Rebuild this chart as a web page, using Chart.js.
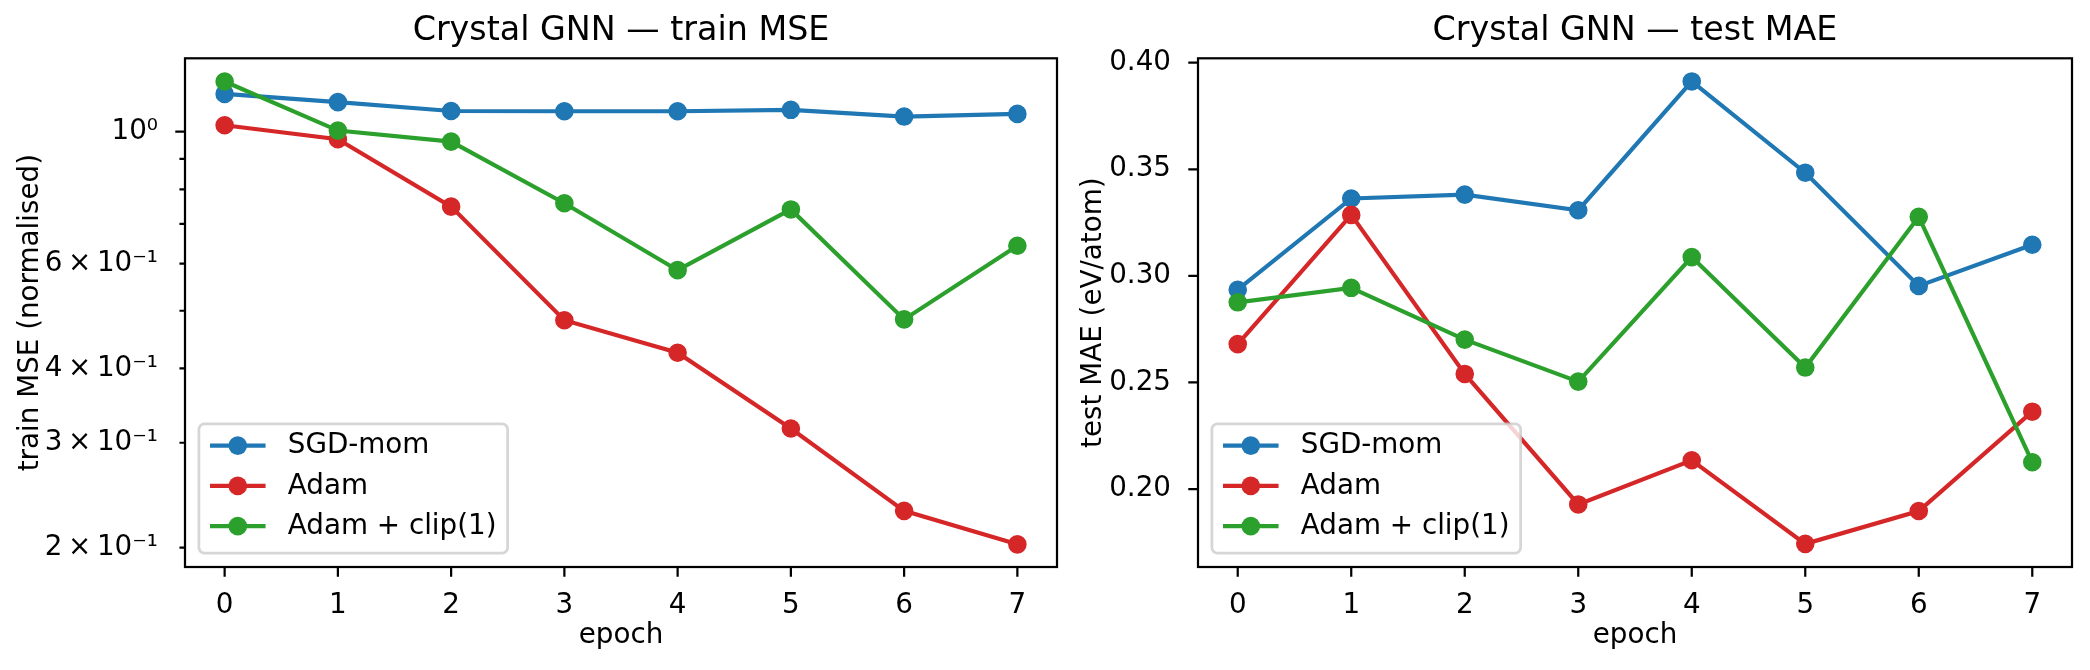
<!DOCTYPE html>
<html>
<head>
<meta charset="utf-8">
<script src="https://cdn.jsdelivr.net/npm/chart.js@4.4.1/dist/chart.umd.min.js"></script>
<style>
  html, body { margin: 0; padding: 0; background: #fff; }
  #fig { position: relative; width: 2090px; height: 670px; overflow: hidden; }
  #fig canvas { position: absolute; top: 0; }
</style>
</head>
<body>
<div id="fig">
  <canvas id="trainChart" width="1070" height="670" style="left:0px"></canvas>
  <canvas id="testChart" width="1020" height="670" style="left:1070px"></canvas>
</div>
<script>
// data
const epochs = [0, 1, 2, 3, 4, 5, 6, 7];
const seriesNames = ["SGD-mom", "Adam", "Adam + clip(1)"];
const seriesColors = ["#1f77b4", "#d62728", "#2ca02c"];

const trainSgd  = [1.157, 1.121, 1.083, 1.082, 1.082, 1.088, 1.060, 1.071];
const trainAdam = [1.025, 0.971, 0.748, 0.482, 0.425, 0.317, 0.2305, 0.2025];
const trainClip = [1.214, 1.004, 0.962, 0.758, 0.585, 0.740, 0.4835, 0.643];

const testSgd  = [0.2935, 0.3363, 0.3381, 0.3308, 0.3912, 0.3484, 0.2953, 0.3146];
const testAdam = [0.268, 0.3286, 0.254, 0.1928, 0.2135, 0.1743, 0.1897, 0.2363];
const testClip = [0.2876, 0.2944, 0.2701, 0.2504, 0.3088, 0.257, 0.3277, 0.2126];

const trainTicks = [0.2, 0.3, 0.4, 0.5, 0.6, 0.7, 0.8, 0.9, 1.0];
const trainTickLabels = ["2\u2009×\u200910⁻¹", "3\u2009×\u200910⁻¹", "4\u2009×\u200910⁻¹", "",
                         "6\u2009×\u200910⁻¹", "", "", "", "10⁰"];
const testTicks = [0.20, 0.25, 0.30, 0.35, 0.40];
const testTickLabels = ["0.20", "0.25", "0.30", "0.35", "0.40"];

const PT = 200 / 72;      // figure is 200 dpi
const FS = 10 * PT;       // default matplotlib font size

Chart.defaults.font.family = '"DejaVu Sans", sans-serif';
Chart.defaults.color = "#000";

// spines, tick marks and the in-axes legend, matplotlib style
const mplAxes = {
  id: "mplAxes",
  afterDraw(chart) {
    const ctx = chart.ctx;
    const a = chart.chartArea;
    const xs = chart.scales.x, ys = chart.scales.y;
    ctx.save();
    ctx.strokeStyle = "#000";
    ctx.lineWidth = 0.8 * PT;
    ctx.beginPath();
    xs.ticks.forEach(t => {
      const p = xs.getPixelForValue(t.value);
      ctx.moveTo(p, a.bottom);
      ctx.lineTo(p, a.bottom + 3.5 * PT);
    });
    ys.ticks.forEach(t => {
      const p = ys.getPixelForValue(t.value);
      const len = t.minor ? 2 * PT : 3.5 * PT;
      ctx.moveTo(a.left - len, p);
      ctx.lineTo(a.left, p);
    });
    ctx.stroke();
    ctx.strokeRect(a.left, a.top, a.right - a.left, a.bottom - a.top);

    // legend, lower left
    ctx.font = FS + 'px "DejaVu Sans"';
    const names = chart.data.datasets.map(d => d.label);
    const textW = Math.max(...names.map(n => ctx.measureText(n).width));
    const pad = 0.4 * FS, hl = 2 * FS, htp = 0.8 * FS;
    const w = 2 * pad + hl + htp + textW;
    const h = 4.65 * FS;
    const x0 = a.left + 0.5 * FS;
    const y0 = a.bottom - 0.5 * FS - h;
    const r = 0.2 * FS;
    ctx.beginPath();
    ctx.moveTo(x0 + r, y0);
    ctx.lineTo(x0 + w - r, y0);
    ctx.arcTo(x0 + w, y0, x0 + w, y0 + r, r);
    ctx.lineTo(x0 + w, y0 + h - r);
    ctx.arcTo(x0 + w, y0 + h, x0 + w - r, y0 + h, r);
    ctx.lineTo(x0 + r, y0 + h);
    ctx.arcTo(x0, y0 + h, x0, y0 + h - r, r);
    ctx.lineTo(x0, y0 + r);
    ctx.arcTo(x0, y0, x0 + r, y0, r);
    ctx.closePath();
    ctx.fillStyle = "rgba(255,255,255,0.8)";
    ctx.fill();
    ctx.strokeStyle = "rgba(204,204,204,0.8)";
    ctx.lineWidth = 1 * PT;
    ctx.stroke();

    chart.data.datasets.forEach((d, i) => {
      const cy = y0 + 0.78 * FS + i * 1.45 * FS;
      const hx = x0 + pad;
      ctx.strokeStyle = d.borderColor;
      ctx.lineWidth = d.borderWidth;
      ctx.beginPath();
      ctx.moveTo(hx, cy);
      ctx.lineTo(hx + hl, cy);
      ctx.stroke();
      ctx.fillStyle = d.borderColor;
      ctx.beginPath();
      ctx.arc(hx + hl / 2, cy, d.pointRadius + d.pointBorderWidth / 2, 0, Math.PI * 2);
      ctx.fill();
      ctx.fillStyle = "#000";
      ctx.textAlign = "left";
      ctx.textBaseline = "middle";
      ctx.fillText(d.label, hx + hl + htp, cy + 0.5);
    });
    ctx.restore();
  }
};

function makeDatasets(seriesList) {
  return seriesList.map((vals, k) => ({
    label: seriesNames[k],
    data: epochs.map((e, i) => ({ x: e, y: vals[i] })),
    borderColor: seriesColors[k],
    backgroundColor: seriesColors[k],
    pointBackgroundColor: seriesColors[k],
    pointBorderColor: seriesColors[k],
    borderWidth: 1.5 * PT,
    pointRadius: 8.4,
    pointHoverRadius: 8.4,
    pointBorderWidth: 1.8,
    tension: 0,
    fill: false,
    order: seriesList.length - 1 - k
  }));
}

function makeChart(id, datasets, cfg) {
  return new Chart(document.getElementById(id), {
    type: "line",
    data: { datasets: datasets },
    plugins: [mplAxes],
    options: {
      responsive: false,
      animation: false,
      devicePixelRatio: 1,
      events: [],
      layout: { padding: { left: 0, right: cfg.padRight, top: 0, bottom: 0 } },
      plugins: {
        legend: { display: false },
        tooltip: { enabled: false },
        title: {
          display: true,
          text: cfg.title,
          fullSize: false,
          color: "#000",
          font: { size: 12 * PT, weight: "normal" },
          padding: { top: 11.2, bottom: 7.1 }
        }
      },
      scales: {
        x: {
          type: "linear",
          min: -0.35,
          max: 7.35,
          grid: { display: false },
          border: { display: false },
          afterBuildTicks: s => { s.ticks = epochs.map(v => ({ value: v })); },
          afterFit: s => { s.height = 103; },
          ticks: {
            autoSkip: false,
            maxRotation: 0,
            padding: 13.8,
            color: "#000",
            font: { size: FS },
            callback: v => String(v)
          },
          title: {
            display: true,
            text: "epoch",
            color: "#000",
            font: { size: FS },
            padding: { top: 0, bottom: 17.9 }
          }
        },
        y: {
          type: cfg.yType,
          min: cfg.yMin,
          max: cfg.yMax,
          grid: { display: false },
          border: { display: false },
          afterBuildTicks: s => {
            s.ticks = cfg.ticks.map(v => ({ value: v, minor: cfg.minor(v) }));
          },
          afterFit: s => { s.width = cfg.yWidth; },
          ticks: {
            autoSkip: false,
            padding: 19,
            color: "#000",
            font: { size: FS },
            callback: (v, i) => cfg.labels[i]
          },
          title: {
            display: true,
            text: cfg.yTitle,
            color: "#000",
            font: { size: FS },
            padding: { top: cfg.yTitlePad, bottom: 0 }
          }
        }
      }
    }
  });
}

makeChart("trainChart", makeDatasets([trainSgd, trainAdam, trainClip]), {
  title: "Crystal GNN — train MSE",
  yTitle: "train MSE (normalised)",
  yType: "logarithmic",
  yMin: 0.1855,
  yMax: 1.328,
  ticks: trainTicks,
  labels: trainTickLabels,
  minor: v => v !== 1,
  yWidth: 185,
  yTitlePad: 14.5,
  padRight: 13
});

makeChart("testChart", makeDatasets([testSgd, testAdam, testClip]), {
  title: "Crystal GNN — test MAE",
  yTitle: "test MAE (eV/atom)",
  yType: "linear",
  yMin: 0.16345,
  yMax: 0.40205,
  ticks: testTicks,
  labels: testTickLabels,
  minor: v => false,
  yWidth: 128,
  yTitlePad: 7,
  padRight: 18
});
</script>
</body>
</html>
